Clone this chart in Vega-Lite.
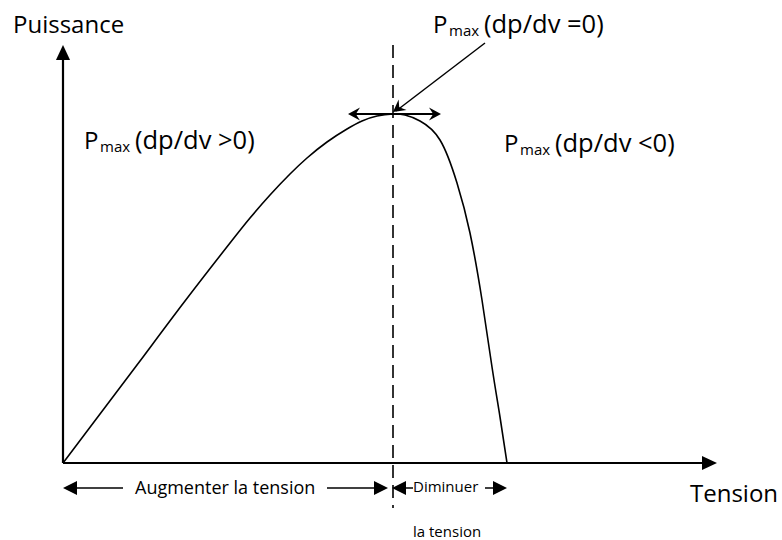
{
  "$schema": "https://vega.github.io/schema/vega-lite/v6.json",
  "width": 782,
  "height": 540,
  "autosize": {"type": "fit", "contains": "padding"},
  "padding": 0,
  "background": "white",
  "config": {"view": {"stroke": null}, "text": {"font": "Open Sans", "color": "#000000"}},
  "datasets": {
    "curve": [
      {"v": 0, "p": 0}, {"v": 37, "p": 49}, {"v": 77, "p": 102}, {"v": 122, "p": 162},
      {"v": 167, "p": 220}, {"v": 187, "p": 245}, {"v": 207, "p": 268}, {"v": 227, "p": 289},
      {"v": 244, "p": 305}, {"v": 264, "p": 321}, {"v": 284, "p": 334}, {"v": 299, "p": 342},
      {"v": 314, "p": 347}, {"v": 330, "p": 349}, {"v": 342, "p": 348}, {"v": 357, "p": 342},
      {"v": 377, "p": 323}, {"v": 394, "p": 280}, {"v": 407, "p": 230}, {"v": 419, "p": 163},
      {"v": 429, "p": 96}, {"v": 437, "p": 46}, {"v": 444, "p": 0}
    ],
    "axes": [
      {"v": 0, "p": 0, "v2": 0, "p2": 405},
      {"v": 0, "p": 0, "v2": 642, "p2": 0},
      {"v": 287, "p": 349, "v2": 376, "p2": 349}
    ],
    "shafts": [
      {"v": 422, "p": 420, "v2": 333, "p2": 352},
      {"v": 7, "p": -25, "v2": 60, "p2": -25},
      {"v": 264, "p": -25, "v2": 319, "p2": -25},
      {"v": 335, "p": -25, "v2": 350, "p2": -25},
      {"v": 422, "p": -25, "v2": 437, "p2": -25}
    ],
    "dashed": [{"v": 330, "p": 418, "v2": 330, "p2": -45}],
    "bigheads": [
      {"v": 0, "p": 418, "dir": 0},
      {"v": 654, "p": 0, "dir": 90}
    ],
    "smallheads": [
      {"v": 0, "p": -25, "dir": 270},
      {"v": 325, "p": -25, "dir": 90},
      {"v": 329, "p": -25, "dir": 270},
      {"v": 444, "p": -25, "dir": 90}
    ],
    "barbs": [
      {"v": 285, "p": 349, "dir": 270},
      {"v": 378, "p": 349, "dir": 90},
      {"v": 330, "p": 351, "dir": 233}
    ],
    "big": [
      {"v": -50, "p": 430, "t": "Puissance"},
      {"v": 627, "p": -39, "t": "Tension"},
      {"v": 370, "p": 430, "t": "P"},
      {"v": 21, "p": 314, "t": "P"},
      {"v": 441, "p": 311, "t": "P"}
    ],
    "paren": [
      {"v": 421, "p": 430, "t": "(dp/dv =0)"},
      {"v": 72, "p": 314, "t": "(dp/dv >0)"},
      {"v": 492, "p": 311, "t": "(dp/dv <0)"}
    ],
    "sub": [
      {"v": 386, "p": 427, "t": "max"},
      {"v": 37, "p": 311, "t": "max"},
      {"v": 457, "p": 308, "t": "max"}
    ],
    "medium": [{"v": 72, "p": -31, "t": "Augmenter la tension"}],
    "small": [
      {"v": 350, "p": -29, "t": "Diminuer"},
      {"v": 350, "p": -74, "t": "la tension"}
    ]
  },
  "encoding": {
    "x": {"field": "v", "type": "quantitative", "scale": {"domain": [-63, 719], "nice": false, "zero": false}, "axis": null},
    "y": {"field": "p", "type": "quantitative", "scale": {"domain": [-77, 463], "nice": false, "zero": false}, "axis": null}
  },
  "layer": [
    {
      "data": {"name": "dashed"},
      "mark": {"type": "rule", "stroke": "#000000", "strokeWidth": 1.6, "strokeDash": [13, 7]},
      "encoding": {"x2": {"field": "v2"}, "y2": {"field": "p2"}}
    },
    {
      "data": {"name": "curve"},
      "mark": {"type": "line", "stroke": "#000000", "strokeWidth": 1.6, "interpolate": "natural"},
      "encoding": {"order": {"field": "v", "type": "quantitative"}}
    },
    {
      "data": {"name": "axes"},
      "mark": {"type": "rule", "stroke": "#000000", "strokeWidth": 2.2},
      "encoding": {"x2": {"field": "v2"}, "y2": {"field": "p2"}}
    },
    {
      "data": {"name": "shafts"},
      "mark": {"type": "rule", "stroke": "#000000", "strokeWidth": 1.5},
      "encoding": {"x2": {"field": "v2"}, "y2": {"field": "p2"}}
    },
    {
      "data": {"name": "bigheads"},
      "mark": {"type": "point", "shape": "M0,0L0.47,1L-0.47,1Z", "filled": true, "fill": "#000000", "stroke": null, "opacity": 1, "size": 900},
      "encoding": {"angle": {"field": "dir", "type": "quantitative", "scale": null}}
    },
    {
      "data": {"name": "smallheads"},
      "mark": {"type": "point", "shape": "M0,0L0.5,1L-0.5,1Z", "filled": true, "fill": "#000000", "stroke": null, "opacity": 1, "size": 784},
      "encoding": {"angle": {"field": "dir", "type": "quantitative", "scale": null}}
    },
    {
      "data": {"name": "barbs"},
      "mark": {"type": "point", "shape": "M0,0L0.55,1L0,0.65L-0.55,1Z", "filled": true, "fill": "#000000", "stroke": null, "opacity": 1, "size": 576},
      "encoding": {"angle": {"field": "dir", "type": "quantitative", "scale": null}}
    },
    {
      "data": {"name": "big"},
      "mark": {"type": "text", "fontSize": 24, "align": "left", "baseline": "alphabetic"},
      "encoding": {"text": {"field": "t"}}
    },
    {
      "data": {"name": "paren"},
      "mark": {"type": "text", "fontSize": 25.5, "align": "left", "baseline": "alphabetic"},
      "encoding": {"text": {"field": "t"}}
    },
    {
      "data": {"name": "sub"},
      "mark": {"type": "text", "fontSize": 15, "align": "left", "baseline": "alphabetic"},
      "encoding": {"text": {"field": "t"}}
    },
    {
      "data": {"name": "medium"},
      "mark": {"type": "text", "fontSize": 18, "align": "left", "baseline": "alphabetic"},
      "encoding": {"text": {"field": "t"}}
    },
    {
      "data": {"name": "small"},
      "mark": {"type": "text", "fontSize": 15, "align": "left", "baseline": "alphabetic"},
      "encoding": {"text": {"field": "t"}}
    }
  ]
}
